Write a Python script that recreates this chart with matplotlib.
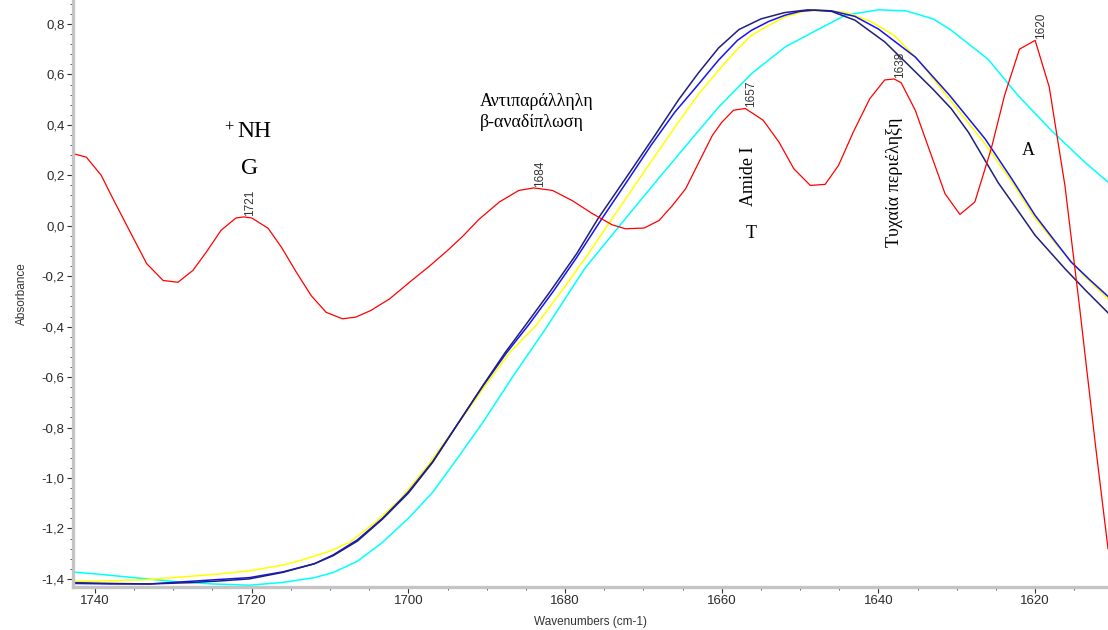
import matplotlib.pyplot as plt
from matplotlib.ticker import MultipleLocator, FuncFormatter


# red trace (peak-resolved spectrum)
red_wn = [1742.8, 1741.1, 1739.2, 1737.7, 1735.5, 1733.4, 1731.3, 1729.4, 1727.5, 1725.8,
          1723.9, 1722.0, 1721.0, 1720.0, 1717.9, 1716.2, 1714.3, 1712.4, 1710.5, 1708.4,
          1706.7, 1704.8, 1702.4, 1699.5, 1697.3, 1695.0, 1693.0, 1691.0, 1688.4, 1685.9,
          1684.0, 1681.6, 1679.1, 1676.5, 1674.0, 1672.3, 1669.9, 1668.0, 1666.3, 1664.6,
          1662.9, 1661.2, 1660.0, 1658.5, 1657.0, 1654.7, 1652.7, 1650.8, 1648.7, 1646.8,
          1645.1, 1643.2, 1641.1, 1639.2, 1638.0, 1637.1, 1635.3, 1633.4, 1631.5, 1629.6,
          1627.7, 1625.6, 1623.9, 1622.0, 1620.0, 1618.2, 1616.2, 1614.3, 1612.3, 1610.7]
red_abs = [0.286, 0.272, 0.200, 0.107, -0.025, -0.150, -0.217, -0.224, -0.177, -0.105,
           -0.018, 0.031, 0.035, 0.031, -0.010, -0.085, -0.184, -0.277, -0.343, -0.369,
           -0.362, -0.336, -0.290, -0.215, -0.160, -0.098, -0.040, 0.025, 0.094, 0.140,
           0.150, 0.140, 0.100, 0.048, 0.004, -0.012, -0.009, 0.021, 0.080, 0.147,
           0.253, 0.358, 0.410, 0.458, 0.465, 0.418, 0.332, 0.226, 0.160, 0.164,
           0.239, 0.372, 0.504, 0.578, 0.582, 0.567, 0.458, 0.292, 0.127, 0.045,
           0.094, 0.306, 0.517, 0.700, 0.735, 0.550, 0.160, -0.330, -0.870, -1.280]

# broad bands
navy_wn = [1742.8, 1738.0, 1733.0, 1728.0, 1724.0, 1720.3, 1716.0, 1712.0, 1709.6, 1706.5,
           1703.3, 1700.0, 1696.9, 1693.7, 1690.5, 1687.7, 1685.0, 1682.0, 1678.5, 1675.8,
           1672.0, 1668.5, 1665.5, 1663.0, 1660.4, 1657.8, 1655.0, 1652.0, 1649.0, 1646.0,
           1643.0, 1639.2, 1636.0, 1633.0, 1630.7, 1628.5, 1624.7, 1622.2, 1620.0, 1616.2,
           1613.5, 1610.7]
navy_abs = [-1.415, -1.418, -1.420, -1.415, -1.408, -1.400, -1.374, -1.340, -1.308, -1.250,
            -1.163, -1.060, -0.938, -0.786, -0.634, -0.505, -0.392, -0.265, -0.110, 0.028,
            0.200, 0.360, 0.500, 0.605, 0.705, 0.778, 0.820, 0.845, 0.856, 0.850,
            0.815, 0.729, 0.632, 0.540, 0.464, 0.370, 0.170, 0.060, -0.038, -0.170,
            -0.258, -0.345]

blue_wn = [1742.8, 1738.0, 1733.0, 1728.0, 1724.0, 1720.3, 1716.0, 1712.0, 1709.6, 1706.5,
           1703.3, 1700.0, 1696.9, 1693.7, 1690.5, 1687.5, 1684.7, 1681.5, 1678.5, 1675.3,
           1672.0, 1669.0, 1666.0, 1663.4, 1660.4, 1658.0, 1656.2, 1654.0, 1651.9, 1650.0,
           1648.1, 1646.0, 1643.0, 1640.0, 1635.3, 1631.0, 1626.4, 1623.0, 1620.0, 1617.5,
           1615.4, 1613.0, 1610.7]
blue_abs = [-1.418, -1.420, -1.420, -1.410, -1.402, -1.395, -1.372, -1.340, -1.305, -1.245,
            -1.160, -1.055, -0.935, -0.785, -0.636, -0.505, -0.395, -0.260, -0.125, 0.028,
            0.180, 0.320, 0.450, 0.545, 0.657, 0.735, 0.775, 0.810, 0.835, 0.850,
            0.855, 0.852, 0.830, 0.780, 0.669, 0.520, 0.345, 0.187, 0.041, -0.060,
            -0.144, -0.215, -0.280]

yellow_wn = [1742.8, 1738.0, 1733.0, 1728.0, 1724.0, 1720.3, 1716.0, 1713.9, 1710.0, 1707.5,
             1704.0, 1701.0, 1697.5, 1694.0, 1690.5, 1687.0, 1683.7, 1680.0, 1677.0, 1674.0,
             1670.0, 1666.0, 1663.0, 1660.4, 1658.0, 1656.2, 1654.0, 1651.9, 1649.5, 1647.0,
             1644.0, 1641.0, 1638.0, 1635.0, 1631.0, 1626.4, 1623.0, 1620.0, 1617.0, 1614.0,
             1610.7]
yellow_abs = [-1.410, -1.408, -1.402, -1.390, -1.380, -1.368, -1.345, -1.328, -1.290, -1.255,
              -1.170, -1.083, -0.950, -0.800, -0.647, -0.500, -0.395, -0.240, -0.110, 0.028,
              0.210, 0.390, 0.520, 0.617, 0.700, 0.755, 0.795, 0.828, 0.850, 0.855,
              0.845, 0.810, 0.755, 0.660, 0.505, 0.325, 0.175, 0.030, -0.085, -0.190,
              -0.290]

cyan_wn = [1742.8, 1740.0, 1735.0, 1730.0, 1725.0, 1720.3, 1716.0, 1712.0, 1709.6, 1706.5,
           1703.3, 1700.0, 1696.9, 1693.7, 1690.5, 1686.5, 1682.5, 1677.5, 1672.3, 1668.0,
           1663.0, 1660.4, 1656.2, 1651.9, 1647.6, 1644.2, 1640.0, 1636.5, 1633.0, 1630.7,
           1626.0, 1622.2, 1618.0, 1613.7, 1610.7]
cyan_abs = [-1.373, -1.380, -1.395, -1.410, -1.420, -1.425, -1.414, -1.395, -1.375, -1.330,
            -1.255, -1.160, -1.057, -0.920, -0.780, -0.590, -0.409, -0.170, 0.028, 0.190,
            0.375, 0.470, 0.603, 0.709, 0.780, 0.835, 0.856, 0.852, 0.820, 0.775,
            0.660, 0.517, 0.380, 0.253, 0.173]

# labelled peaks of the red trace
peak_wn = [1721, 1684, 1657, 1638, 1620]


def comma_fmt(v, pos):
	return ("%.1f" % v).replace(".", ",")


def plot_bands(outputFilename):
	fig = plt.figure(figsize=(11.08, 6.3), dpi=100)
	ax = fig.add_axes([0.0659, 0.0683, 0.9341, 0.9317])

	ax.plot(cyan_wn, cyan_abs, color="#00ffff", lw=1.1)
	ax.plot(yellow_wn, yellow_abs, color="#ffff00", lw=1.1)
	ax.plot(blue_wn, blue_abs, color="#1515f0", lw=1.1)
	ax.plot(navy_wn, navy_abs, color="#20207a", lw=1.1)
	ax.plot(red_wn, red_abs, color="#ff0000", lw=0.9)

	ax.set_xlim(1742.8, 1610.7)
	ax.set_ylim(-1.432, 0.895)

	# peak position labels
	for wn in peak_wn:
		yv = red_abs[red_wn.index(wn)]
		ax.annotate(str(wn), xy=(wn, yv), xytext=(6, 1), textcoords="offset pixels",
			rotation=90, ha="center", va="bottom", fontsize=8.5,
			family="Liberation Sans", color="#333333")

	# band assignments
	serif = "Liberation Serif"
	ax.text(1722.9, 0.388, "+", fontsize=12, family=serif, ha="center", va="center")
	ax.text(1719.7, 0.373, "NH", fontsize=17, family=serif, ha="center", va="center")
	ax.text(1720.3, 0.226, "G", fontsize=17, family=serif, ha="center", va="center")
	ax.text(1690.9, 0.474, "Αντιπαράλληλη", fontsize=13, family=serif, ha="left", va="baseline")
	ax.text(1690.9, 0.391, "β-αναδίπλωση", fontsize=13, family=serif, ha="left", va="baseline")
	ax.text(1656.6, 0.198, "Amide I", fontsize=13, family=serif, rotation=90,
		ha="center", va="center")
	ax.text(1656.2, -0.032, "T", fontsize=13, family=serif, ha="center", va="center")
	ax.text(1638.0, 0.174, "Τυχαία περιέληξη", fontsize=13, family=serif, rotation=90,
		ha="center", va="center")
	ax.text(1620.85, 0.298, "A", fontsize=13, family=serif, ha="center", va="center")

	# axes frame
	for side in ["top", "right"]:
		ax.spines[side].set_visible(False)
	for side in ["left", "bottom"]:
		ax.spines[side].set_color("#c4c4c4")
		ax.spines[side].set_linewidth(2.4)

	ax.xaxis.set_major_locator(MultipleLocator(20))
	ax.xaxis.set_minor_locator(MultipleLocator(5))
	ax.yaxis.set_major_locator(MultipleLocator(0.2))
	ax.yaxis.set_minor_locator(MultipleLocator(0.04))
	ax.yaxis.set_major_formatter(FuncFormatter(comma_fmt))
	ax.tick_params(which="major", length=4, width=0.8, color="#333333",
		labelsize=9.5, labelcolor="#2a2a2a", pad=2)
	ax.tick_params(which="minor", length=2, width=0.7, color="#555555")
	for lab in ax.get_xticklabels() + ax.get_yticklabels():
		lab.set_family("Liberation Sans")

	ax.set_xlabel("Wavenumbers (cm-1)", fontsize=8.5, family="Liberation Sans",
		color="#333333", labelpad=6)
	ax.set_ylabel("Absorbance", fontsize=8.5, family="Liberation Sans",
		color="#333333", labelpad=10)

	plt.savefig(outputFilename, dpi=100)


if __name__ == '__main__':
	plot_bands("out.png")
